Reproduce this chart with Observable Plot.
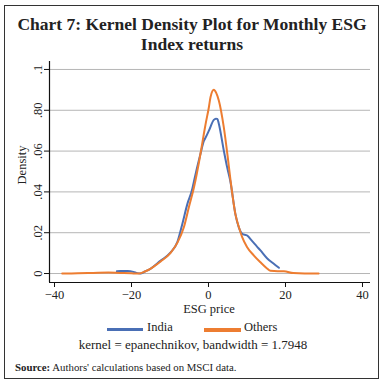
<!DOCTYPE html>
<html>
<head>
<meta charset="utf-8">
<script src="https://cdn.jsdelivr.net/npm/d3@7"></script>
<script src="https://cdn.jsdelivr.net/npm/@observablehq/plot@0.6"></script>
<style>
  html, body { margin: 0; padding: 0; background: #fff; }
  #wrap { position: relative; width: 384px; height: 385px; font-family: "Liberation Serif", "DejaVu Serif", serif; color: #222; }
  #frame { position: absolute; left: 4px; top: 5px; width: 373px; height: 372px; border: 1.5px solid #333; }
  #title { position: absolute; left: 0; width: 384px; top: 15px; text-align: center; font-weight: bold; font-size: 17.5px; line-height: 19.5px; }
  #chart { position: absolute; left: 0; top: 0; }
  #ylab { position: absolute; left: 22px; top: 165px; transform: translate(-50%, -50%) rotate(-90deg); font-size: 12.5px; white-space: nowrap; }
  #xlab { position: absolute; left: 209px; top: 302px; transform: translateX(-50%); font-size: 12.5px; white-space: nowrap; }
  #legend { position: absolute; top: 320px; left: 0; width: 384px; height: 16px; font-size: 12.5px; }
  .sw { position: absolute; top: 8px; height: 2.5px; }
  .lt { position: absolute; top: 0; }
  #cap { position: absolute; left: 193px; top: 337px; transform: translateX(-50%); font-size: 13px; white-space: nowrap; }
  #src { position: absolute; left: 15px; top: 361px; font-size: 10.8px; white-space: nowrap; }
</style>
</head>
<body>
<div id="wrap">
  <div id="frame"></div>
  <div id="title">Chart 7: Kernel Density Plot for Monthly ESG<br>Index returns</div>
  <div id="chart"></div>
  <div id="ylab">Density</div>
  <div id="xlab">ESG price</div>
  <div id="legend"></div>
  <div id="cap">kernel = epanechnikov, bandwidth = 1.7948</div>
  <div id="src"><b>Source:</b> Authors' calculations based on MSCI data.</div>
</div>
<script>
// ---- data ----
const seriesNames = ["India", "Others"];
const seriesColors = ["#4a6fb5", "#ed7d31"];

const indiaX = [-23.8,-22.9,-21,-19.5,-18.5,-17.7,-16.5,-15.1,-12.5,-9.9,-8.1,-6.8,-5.5,-4.2,-3.8,-2.08,-1.2,-0.78,0.1,1.38,1.9,2.3,2.68,3.97,4.85,5.7,7.0,7.9,8.75,10.05,11.3,12.6,13.5,15.2,16.8,18.3];
const indiaY = [0.0011,0.0012,0.0012,0.0008,0.0002,0,0.0010,0.0023,0.0062,0.0102,0.0154,0.0243,0.034,0.0415,0.045,0.0587,0.065,0.0665,0.070,0.0753,0.0759,0.0758,0.0734,0.0603,0.052,0.045,0.029,0.0225,0.0195,0.0186,0.016,0.0132,0.0113,0.0075,0.005,0.0028];

const othersX = [-38,-34,-30,-26,-23,-20,-18,-16.5,-15.1,-12.5,-9.9,-8.1,-6.4,-5.1,-3.8,-2.08,-1.2,-0.78,0.1,0.52,1.38,2.0,2.68,3.97,5.0,5.7,7.0,7.9,8.75,10.0,11.8,13.5,15.2,16.1,18,19.6,22,25,28.6];
const othersY = [0,0.0001,0.0003,0.0005,0.0003,0.0001,0,0.001,0.0023,0.0058,0.0100,0.0150,0.0227,0.0325,0.042,0.0587,0.0685,0.073,0.0815,0.0864,0.090,0.0885,0.0848,0.0717,0.057,0.046,0.029,0.0227,0.0178,0.013,0.0088,0.0055,0.0025,0.0013,0.0011,0.0011,0.0002,0,0];

const xTicks = [-40, -20, 0, 20, 40];
const yTicks = [0, 0.02, 0.04, 0.06, 0.08, 0.1];
const yTickLabels = ["0", ".02", ".04", ".06", ".80", ".1"];

// ---- build table ----
const rows = [];
indiaX.forEach((x, i) => rows.push({series: "India", x, y: indiaY[i]}));
othersX.forEach((x, i) => rows.push({series: "Others", x, y: othersY[i]}));

const xDom = [-41.3, 42.08];
const yDom = [-0.0044, 0.1039];

const chart = Plot.plot({
  width: 384,
  height: 305,
  marginLeft: 49,
  marginRight: 14,
  marginTop: 61,
  marginBottom: 23,
  style: {fontFamily: "'Liberation Serif', serif", fontSize: "12.5px", color: "#222", overflow: "visible", background: "transparent"},
  x: {type: "linear", domain: xDom, axis: null},
  y: {type: "linear", domain: yDom, axis: null},
  color: {domain: seriesNames, range: seriesColors},
  marks: [
    Plot.gridY(yTicks, {stroke: "#b5b5b5", strokeOpacity: 1, strokeWidth: 1}),
    Plot.line(rows, {x: "x", y: "y", z: "series", stroke: "series", strokeWidth: 2, curve: "monotone-x"}),
    Plot.ruleX([xDom[0]], {stroke: "#111", strokeWidth: 1.2}),
    Plot.ruleY([yDom[0]], {stroke: "#111", strokeWidth: 1.2}),
    Plot.axisX(xTicks, {tickSize: 5, tickPadding: 3, label: null, stroke: "#111", fontSize: 12.5}),
    Plot.axisY(yTicks, {tickSize: 5, tickFormat: () => "", label: null, stroke: "#111"}),
    Plot.text(yTicks, {x: () => xDom[0], y: d => d, text: (d, i) => yTickLabels[i], rotate: -90, dx: -12, textAnchor: "middle", fontSize: 12.5, fill: "#222"})
  ]
});
document.getElementById("chart").appendChild(chart);

// legend
const leg = document.getElementById("legend");
const legPos = [{sw: 107, w: 36, t: 147}, {sw: 204, w: 37, t: 244}];
seriesNames.forEach((n, i) => {
  const s = document.createElement("div");
  s.className = "sw";
  s.style.left = legPos[i].sw + "px";
  s.style.width = legPos[i].w + "px";
  s.style.background = seriesColors[i];
  s.style.height = (i === 0 ? 2.5 : 3.5) + "px";
  leg.appendChild(s);
  const t = document.createElement("div");
  t.className = "lt";
  t.style.left = legPos[i].t + "px";
  t.textContent = n;
  leg.appendChild(t);
});
</script>
</body>
</html>
